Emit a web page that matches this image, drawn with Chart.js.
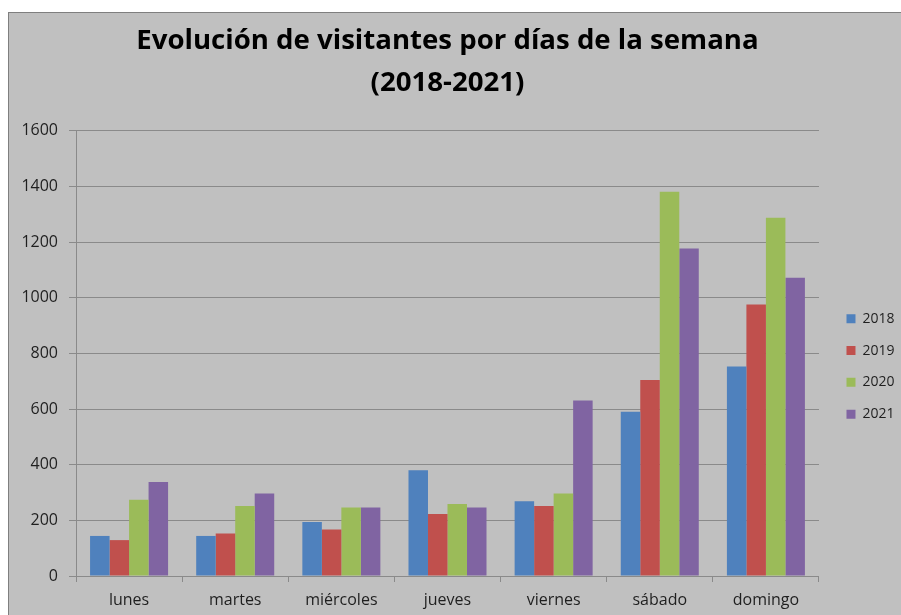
<!DOCTYPE html>
<html lang="es">
<head>
<meta charset="UTF-8">
<title>Evolución de visitantes por días de la semana (2018-2021)</title>
<style>
  *{box-sizing:border-box;margin:0;padding:0}
  html,body{width:901px;height:615px;overflow:hidden;background:#fff}
  #frame{position:absolute;left:8px;top:12px;width:910px;height:620px;background:#c0c0c0;border-top:1px solid #7f7f7f;border-left:1px solid #7f7f7f}
  canvas{display:block}
</style>
</head>
<body>

<div id="frame">
  <canvas id="chart" width="900" height="602"></canvas>
</div>

<script src="https://cdn.jsdelivr.net/npm/chart.js@4.4.0"></script>
<script>
/* Categories */
const days = ["lunes","martes","miércoles","jueves","viernes","sábado","domingo"];

/* Visitors per year */
const v2018 = [144, 144, 194, 380, 269, 590, 753];
const v2019 = [129, 153, 167, 223, 252, 705, 976];
const v2020 = [274, 252, 246, 259, 297, 1381, 1288];
const v2021 = [338, 297, 246, 246, 631, 1177, 1072];

/* Y axis ticks */
const yTicks = [0, 200, 400, 600, 800, 1000, 1200, 1400, 1600];

const gridGrey = '#8a8a8a';
const txt = '#1f1f1f';

new Chart(document.getElementById('chart'), {
  type: 'bar',
  data: {
    labels: days,
    datasets: [
      {label:'2018', data:v2018, backgroundColor:'#4f81bd'},
      {label:'2019', data:v2019, backgroundColor:'#c0504d'},
      {label:'2020', data:v2020, backgroundColor:'#9bbb59'},
      {label:'2021', data:v2021, backgroundColor:'#8064a2'}
    ]
  },
  options: {
    responsive: false,
    animation: false,
    layout: {padding: {left: 0, right: 4.5, top: 0, bottom: 0}},
    datasets: {bar: {categoryPercentage: 0.735, barPercentage: 1}},
    plugins: {
      title: {
        display: true,
        fullSize: false,
        text: ['Evolución de visitantes por días de la semana', '(2018-2021)'],
        color: '#000',
        font: {family: '"Open Sans", sans-serif', size: 27.6, weight: 'bold', lineHeight: 1.52},
        padding: {top: 7, bottom: 27}
      },
      legend: {
        position: 'right',
        fullSize: false,
        title: {display: true, text: '', font: {size: 14, lineHeight: 1.2}, padding: {top: 4, bottom: 5.2}},
        labels: {
          boxWidth: 9, boxHeight: 9, padding: 17.8,
          color: txt,
          font: {family: '"Open Sans", sans-serif', size: 14}
        }
      },
      tooltip: {enabled: false}
    },
    scales: {
      x: {
        grid: {drawOnChartArea: false, color: gridGrey, tickLength: 6},
        border: {color: gridGrey},
        ticks: {color: txt, padding: 9, font: {family: '"Open Sans", sans-serif', size: 16}},
        afterFit: s => { s.height = 39; }
      },
      y: {
        min: 0, max: 1600,
        afterBuildTicks: s => { s.ticks = yTicks.map(v => ({value: v})); },
        grid: {color: gridGrey, tickLength: 7},
        border: {color: gridGrey},
        ticks: {color: txt, padding: 11, font: {family: '"Open Sans", sans-serif', size: 16},
                callback: v => String(v)},
        afterFit: s => { s.width = 67; }
      },
      gap: {
        type: 'linear', position: 'right', display: true,
        grid: {display: false}, border: {display: false}, ticks: {display: false},
        afterFit: s => { s.width = 9.7; }
      }
    }
  }
});
</script>

</body>
</html>
